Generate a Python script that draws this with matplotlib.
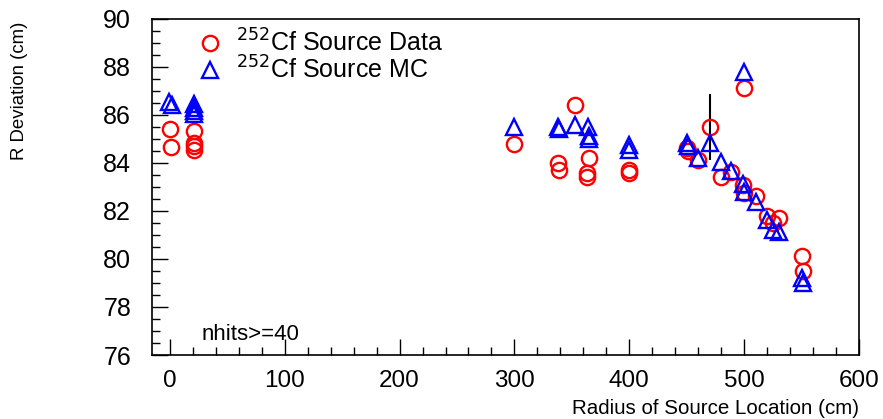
import numpy as np
import matplotlib.pyplot as plt
from matplotlib.ticker import MultipleLocator

plt.rcParams['font.family'] = ['Liberation Sans', 'DejaVu Sans']

# 252Cf source data
data_r = [0, 1, 21, 21, 21, 21, 300, 338, 339, 353, 363, 363, 365,
          400, 400, 450, 451, 460, 470, 480, 489, 499, 500, 500, 510,
          520, 525, 530, 550, 551]
data_dev = [85.4, 84.65, 85.33, 84.82, 84.68, 84.54, 84.79, 84.01, 83.71,
            86.42, 83.57, 83.43, 84.22, 83.71, 83.57, 84.61, 84.51, 84.13,
            85.49, 83.43, 83.6, 83.08, 82.76, 87.11, 82.6, 81.79, 81.51,
            81.7, 80.12, 79.51]
data_err = [0] * len(data_r)
data_err[18] = 1.39

# 252Cf source MC
mc_r = [-1, 1.5, 21, 21, 21, 21, 300, 338, 339, 353, 364, 365, 365,
        400, 400, 450, 451, 460, 470, 480, 489, 499, 500, 500, 510,
        520, 525, 530, 550, 551]
mc_dev = [86.55, 86.4, 86.45, 86.3, 86.15, 86.05, 85.51, 85.51, 85.4,
          85.58, 85.51, 85.1, 85.0, 84.75, 84.54, 84.82, 84.68, 84.2,
          84.82, 84.05, 83.64, 83.13, 82.8, 87.8, 82.39, 81.63, 81.2,
          81.14, 79.19, 78.99]

fig = plt.figure(figsize=(8.83, 4.19), dpi=100)
ax = fig.add_axes([0.1721, 0.1527, 0.8007, 0.8027])

ax.errorbar(data_r, data_dev, yerr=data_err, fmt='none', ecolor='black',
            elinewidth=1.5, capsize=0, zorder=2)
ax.plot(data_r, data_dev, 'o', mfc='none', mec='red', mew=1.7, ms=11,
        linestyle='none', label=r'$^{252}$Cf Source Data', zorder=3)
ax.plot(mc_r, mc_dev, '^', mfc='none', mec='blue', mew=1.7, ms=11.5,
        linestyle='none', label=r'$^{252}$Cf Source MC', zorder=4)

ax.set_xlim(-15.6, 600)
ax.set_ylim(76, 90)
ax.xaxis.set_major_locator(MultipleLocator(100))
ax.xaxis.set_minor_locator(MultipleLocator(20))
ax.yaxis.set_major_locator(MultipleLocator(2))
ax.yaxis.set_minor_locator(MultipleLocator(0.5))
ax.tick_params(which='both', direction='in', top=False, right=False, width=1)
ax.tick_params(which='major', length=11.5)
ax.tick_params(which='minor', length=5.8)
ax.tick_params(axis='x', which='major', labelsize=17.5, pad=11)
ax.tick_params(axis='y', which='major', labelsize=18, pad=15)
for s in ax.spines.values():
    s.set_linewidth(1.2)

ax.set_xlabel('Radius of Source Location (cm)', fontsize=14.8, ha='right')
ax.xaxis.set_label_coords(1.0, -0.13)
ax.set_ylabel('R Deviation (cm)', fontsize=13.4, ha='right')
ax.yaxis.set_label_coords(-0.175, 0.99)

ax.text(0.07, 0.045, 'nhits>=40', transform=ax.transAxes, fontsize=16)

leg = ax.legend(loc='upper left', bbox_to_anchor=(0.047, 0.998), frameon=False,
                fontsize=18, handletextpad=0.45, labelspacing=0.0,
                borderaxespad=0, handlelength=1.2)

fig.savefig('out.png', dpi=100)
